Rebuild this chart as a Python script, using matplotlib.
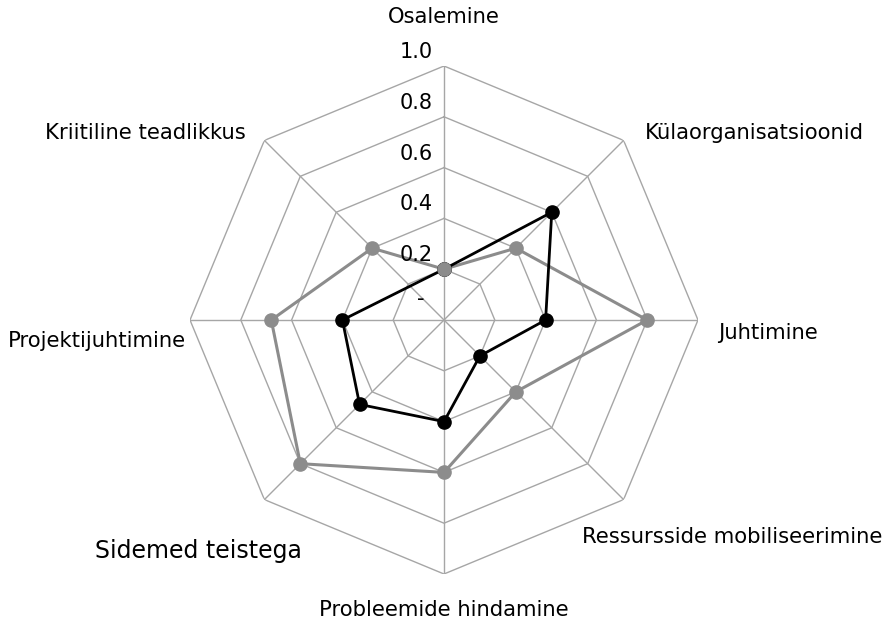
import matplotlib.pyplot as plt
import numpy as np

categories = ['Osalemine', 'Külaorganisatsioonid', 'Juhtimine',
              'Ressursside mobiliseerimine', 'Probleemide hindamine',
              'Sidemed teistega', 'Projektijuhtimine', 'Kriitiline teadlikkus']
grey_vals = [0.2, 0.4, 0.8, 0.4, 0.6, 0.8, 0.68, 0.4]
black_vals = [0.2, 0.6, 0.4, 0.2, 0.4, 0.47, 0.4, np.nan]  # no value for last axis
ring_vals = [0.2, 0.4, 0.6, 0.8, 1.0]
ring_labels = ['0.2', '0.4', '0.6', '0.8', '1.0']

W, H = 894, 623
fig = plt.figure(figsize=(W/100, H/100), dpi=100)
cx, cy, R = 444, 320, 254
ax = fig.add_axes([(cx-R)/W, (H-cy-R)/H, 2*R/W, 2*R/H], projection='polar')
ax.set_theta_zero_location('N')
ax.set_theta_direction(-1)
ax.set_ylim(0, 1.0)
ax.axis('off')

n = len(categories)
theta = np.arange(n) * 2*np.pi/n
th_closed = np.append(theta, theta[0])

gridc = '#a6a6a6'
for r in ring_vals:
    ax.plot(th_closed, [r]*(n+1), color=gridc, lw=1.0, zorder=1)
for t in theta:
    ax.plot([t, t], [0, 1.0], color=gridc, lw=1.0, zorder=1)

# grey series
g = np.append(grey_vals, grey_vals[0])
ax.plot(th_closed, g, color='#8c8c8c', lw=2.2, marker='o', ms=9.5, zorder=3)

# black series, gap is bridged
b = np.array(black_vals + [black_vals[0]])
ok = ~np.isnan(b)
ax.plot(th_closed[ok], b[ok], color='black', lw=2.0, zorder=4)
ax.plot(theta[~np.isnan(black_vals)], np.array(black_vals)[~np.isnan(black_vals)],
        'o', color='black', ms=9.5, zorder=4)
# grey marker on top at first axis
ax.plot([theta[0]], [grey_vals[0]], 'o', color='#8c8c8c', ms=9.5, zorder=5)

# radial tick labels
for r, lab in zip(ring_vals, ring_labels):
    fig.text((cx-11)/W, 1-(cy-r*R-14)/H, lab, ha='right', va='center', fontsize=15)
fig.text((cx-20)/W, 1-(cy-21)/H, '-', ha='right', va='center', fontsize=15)

# category labels
label_pos = [(444, 17, 'center'), (645, 133, 'left'), (718, 333, 'left'),
             (582, 537, 'left'), (444, 610, 'center'), (198, 551, 'center'),
             (8, 341, 'left'), (145, 133, 'center')]
for name, (x, y, ha) in zip(categories, label_pos):
    fs = 17 if name == 'Sidemed teistega' else 15.2
    fig.text(x/W, 1-y/H, name, ha=ha, va='center', fontsize=fs)

fig.savefig('out.png', dpi=100)
